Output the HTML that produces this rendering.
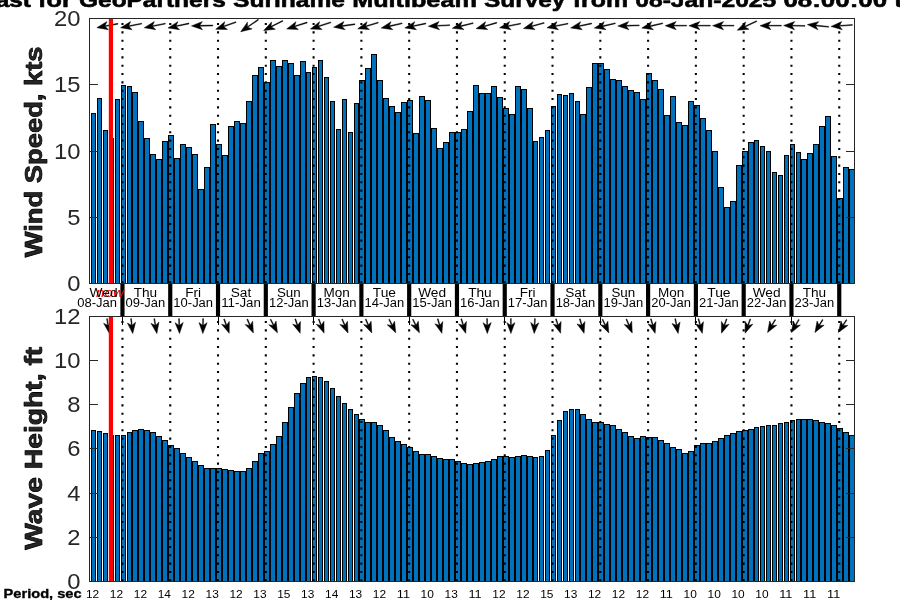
<!DOCTYPE html>
<html><head><meta charset="utf-8"><title>Forecast</title>
<style>html,body{margin:0;padding:0;background:#fff;overflow:hidden}svg{display:block}</style>
</head><body>
<svg width="900" height="600" viewBox="0 0 900 600">
<rect width="900" height="600" fill="#fff"/>
<clipPath id="ctop"><rect x="89" y="18" width="766" height="266"/></clipPath>
<g clip-path="url(#ctop)">
<g shape-rendering="crispEdges">
<path fill="#000" d="M91 113h5V284h-5zM97 98h5V284h-5zM103 130h5V284h-5zM109 138h5V284h-5zM115 99h5V284h-5zM121 85h5V284h-5zM127 86h5V284h-5zM132 92h6V284h-6zM138 121h6V284h-6zM144 138h6V284h-6zM150 154h6V284h-6zM156 159h6V284h-6zM162 141h6V284h-6zM168 135h6V284h-6zM174 158h6V284h-6zM180 144h6V284h-6zM186 147h6V284h-6zM192 154h6V284h-6zM198 189h6V284h-6zM204 167h6V284h-6zM210 124h6V284h-6zM216 144h6V284h-6zM222 155h6V284h-6zM228 126h6V284h-6zM234 121h6V284h-6zM240 123h6V284h-6zM246 101h6V284h-6zM252 75h6V284h-6zM258 67h6V284h-6zM264 82h6V284h-6zM270 60h6V284h-6zM276 66h6V284h-6zM282 60h6V284h-6zM288 63h6V284h-6zM294 75h6V284h-6zM300 61h6V284h-6zM306 72h5V284h-5zM312 67h5V284h-5zM318 60h5V284h-5zM324 77h5V284h-5zM330 101h5V284h-5zM336 129h5V284h-5zM342 99h5V284h-5zM348 132h5V284h-5zM354 103h5V284h-5zM359 80h6V284h-6zM365 68h6V284h-6zM371 54h6V284h-6zM377 80h6V284h-6zM383 98h6V284h-6zM389 106h6V284h-6zM395 112h6V284h-6zM401 102h6V284h-6zM407 100h6V284h-6zM413 133h6V284h-6zM419 96h6V284h-6zM425 100h6V284h-6zM431 128h6V284h-6zM437 148h6V284h-6zM443 142h6V284h-6zM449 132h6V284h-6zM455 132h6V284h-6zM461 129h6V284h-6zM467 111h6V284h-6zM473 85h6V284h-6zM479 93h6V284h-6zM485 93h6V284h-6zM491 86h6V284h-6zM497 97h6V284h-6zM503 108h6V284h-6zM509 114h6V284h-6zM515 86h6V284h-6zM521 89h6V284h-6zM527 108h6V284h-6zM533 141h5V284h-5zM539 137h5V284h-5zM545 130h5V284h-5zM551 106h5V284h-5zM557 94h5V284h-5zM563 95h5V284h-5zM569 93h5V284h-5zM575 101h5V284h-5zM580 114h6V284h-6zM586 87h6V284h-6zM592 63h6V284h-6zM598 63h6V284h-6zM604 69h6V284h-6zM610 79h6V284h-6zM616 80h6V284h-6zM622 86h6V284h-6zM628 90h6V284h-6zM634 92h6V284h-6zM640 99h6V284h-6zM646 73h6V284h-6zM652 80h6V284h-6zM658 89h6V284h-6zM664 115h6V284h-6zM670 96h6V284h-6zM676 122h6V284h-6zM682 125h6V284h-6zM688 101h6V284h-6zM694 105h6V284h-6zM700 118h6V284h-6zM706 130h6V284h-6zM712 151h6V284h-6zM718 187h6V284h-6zM724 207h6V284h-6zM730 201h6V284h-6zM736 165h6V284h-6zM742 151h6V284h-6zM748 142h6V284h-6zM754 140h5V284h-5zM760 146h5V284h-5zM766 151h5V284h-5zM772 172h5V284h-5zM778 175h5V284h-5zM784 155h5V284h-5zM790 144h5V284h-5zM796 152h5V284h-5zM801 159h6V284h-6zM807 153h6V284h-6zM813 144h6V284h-6zM819 126h6V284h-6zM825 116h6V284h-6zM831 156h6V284h-6zM837 198h6V284h-6zM843 167h6V284h-6zM849 169h6V284h-6z"/>
<path fill="#0072bd" d="M92 114h3V283h-3zM98 99h3V283h-3zM104 131h3V283h-3zM110 139h3V283h-3zM116 100h3V283h-3zM122 86h3V283h-3zM128 87h3V283h-3zM133 93h4V283h-4zM139 122h4V283h-4zM145 139h4V283h-4zM151 155h4V283h-4zM157 160h4V283h-4zM163 142h4V283h-4zM169 136h4V283h-4zM175 159h4V283h-4zM181 145h4V283h-4zM187 148h4V283h-4zM193 155h4V283h-4zM199 190h4V283h-4zM205 168h4V283h-4zM211 125h4V283h-4zM217 145h4V283h-4zM223 156h4V283h-4zM229 127h4V283h-4zM235 122h4V283h-4zM241 124h4V283h-4zM247 102h4V283h-4zM253 76h4V283h-4zM259 68h4V283h-4zM265 83h4V283h-4zM271 61h4V283h-4zM277 67h4V283h-4zM283 61h4V283h-4zM289 64h4V283h-4zM295 76h4V283h-4zM301 62h4V283h-4zM307 73h3V283h-3zM313 68h3V283h-3zM319 61h3V283h-3zM325 78h3V283h-3zM331 102h3V283h-3zM337 130h3V283h-3zM343 100h3V283h-3zM349 133h3V283h-3zM355 104h3V283h-3zM360 81h4V283h-4zM366 69h4V283h-4zM372 55h4V283h-4zM378 81h4V283h-4zM384 99h4V283h-4zM390 107h4V283h-4zM396 113h4V283h-4zM402 103h4V283h-4zM408 101h4V283h-4zM414 134h4V283h-4zM420 97h4V283h-4zM426 101h4V283h-4zM432 129h4V283h-4zM438 149h4V283h-4zM444 143h4V283h-4zM450 133h4V283h-4zM456 133h4V283h-4zM462 130h4V283h-4zM468 112h4V283h-4zM474 86h4V283h-4zM480 94h4V283h-4zM486 94h4V283h-4zM492 87h4V283h-4zM498 98h4V283h-4zM504 109h4V283h-4zM510 115h4V283h-4zM516 87h4V283h-4zM522 90h4V283h-4zM528 109h4V283h-4zM534 142h3V283h-3zM540 138h3V283h-3zM546 131h3V283h-3zM552 107h3V283h-3zM558 95h3V283h-3zM564 96h3V283h-3zM570 94h3V283h-3zM576 102h3V283h-3zM581 115h4V283h-4zM587 88h4V283h-4zM593 64h4V283h-4zM599 64h4V283h-4zM605 70h4V283h-4zM611 80h4V283h-4zM617 81h4V283h-4zM623 87h4V283h-4zM629 91h4V283h-4zM635 93h4V283h-4zM641 100h4V283h-4zM647 74h4V283h-4zM653 81h4V283h-4zM659 90h4V283h-4zM665 116h4V283h-4zM671 97h4V283h-4zM677 123h4V283h-4zM683 126h4V283h-4zM689 102h4V283h-4zM695 106h4V283h-4zM701 119h4V283h-4zM707 131h4V283h-4zM713 152h4V283h-4zM719 188h4V283h-4zM725 208h4V283h-4zM731 202h4V283h-4zM737 166h4V283h-4zM743 152h4V283h-4zM749 143h4V283h-4zM755 141h3V283h-3zM761 147h3V283h-3zM767 152h3V283h-3zM773 173h3V283h-3zM779 176h3V283h-3zM785 156h3V283h-3zM791 145h3V283h-3zM797 153h3V283h-3zM802 160h4V283h-4zM808 154h4V283h-4zM814 145h4V283h-4zM820 127h4V283h-4zM826 117h4V283h-4zM832 157h4V283h-4zM838 199h4V283h-4zM844 168h4V283h-4zM850 170h4V283h-4z"/>
</g>
<line x1="122.45" x2="122.45" y1="23.00" y2="283" stroke="#000" stroke-width="2.08" stroke-dasharray="2.08 6.25"/>
<line x1="170.24" x2="170.24" y1="23.00" y2="283" stroke="#000" stroke-width="2.08" stroke-dasharray="2.08 6.25"/>
<line x1="218.02" x2="218.02" y1="23.00" y2="283" stroke="#000" stroke-width="2.08" stroke-dasharray="2.08 6.25"/>
<line x1="265.81" x2="265.81" y1="23.00" y2="283" stroke="#000" stroke-width="2.08" stroke-dasharray="2.08 6.25"/>
<line x1="313.59" x2="313.59" y1="23.00" y2="283" stroke="#000" stroke-width="2.08" stroke-dasharray="2.08 6.25"/>
<line x1="361.38" x2="361.38" y1="23.00" y2="283" stroke="#000" stroke-width="2.08" stroke-dasharray="2.08 6.25"/>
<line x1="409.17" x2="409.17" y1="23.00" y2="283" stroke="#000" stroke-width="2.08" stroke-dasharray="2.08 6.25"/>
<line x1="456.95" x2="456.95" y1="23.00" y2="283" stroke="#000" stroke-width="2.08" stroke-dasharray="2.08 6.25"/>
<line x1="504.74" x2="504.74" y1="23.00" y2="283" stroke="#000" stroke-width="2.08" stroke-dasharray="2.08 6.25"/>
<line x1="552.52" x2="552.52" y1="23.00" y2="283" stroke="#000" stroke-width="2.08" stroke-dasharray="2.08 6.25"/>
<line x1="600.31" x2="600.31" y1="23.00" y2="283" stroke="#000" stroke-width="2.08" stroke-dasharray="2.08 6.25"/>
<line x1="648.10" x2="648.10" y1="23.00" y2="283" stroke="#000" stroke-width="2.08" stroke-dasharray="2.08 6.25"/>
<line x1="695.88" x2="695.88" y1="23.00" y2="283" stroke="#000" stroke-width="2.08" stroke-dasharray="2.08 6.25"/>
<line x1="743.67" x2="743.67" y1="23.00" y2="283" stroke="#000" stroke-width="2.08" stroke-dasharray="2.08 6.25"/>
<line x1="791.45" x2="791.45" y1="23.00" y2="283" stroke="#000" stroke-width="2.08" stroke-dasharray="2.08 6.25"/>
<line x1="839.24" x2="839.24" y1="23.00" y2="283" stroke="#000" stroke-width="2.08" stroke-dasharray="2.08 6.25"/>
<g fill="#000" stroke="#000" stroke-width="0.45" stroke-linejoin="miter">
<polygon points="-10.70,-0.42 2.30,-0.42 -0.30,-4.10 10.70,0.00 -0.30,4.10 2.30,0.42 -10.70,0.42" transform="translate(107.40 25.70) rotate(169.5)"/>
<polygon points="-10.70,-0.42 2.30,-0.42 -0.30,-4.10 10.70,0.00 -0.30,4.10 2.30,0.42 -10.70,0.42" transform="translate(131.09 25.70) rotate(169.0)"/>
<polygon points="-10.70,-0.42 2.30,-0.42 -0.30,-4.10 10.70,0.00 -0.30,4.10 2.30,0.42 -10.70,0.42" transform="translate(154.77 25.70) rotate(169.0)"/>
<polygon points="-10.70,-0.42 2.30,-0.42 -0.30,-4.10 10.70,0.00 -0.30,4.10 2.30,0.42 -10.70,0.42" transform="translate(178.46 25.70) rotate(168.0)"/>
<polygon points="-10.70,-0.42 2.30,-0.42 -0.30,-4.10 10.70,0.00 -0.30,4.10 2.30,0.42 -10.70,0.42" transform="translate(202.15 25.70) rotate(179.0)"/>
<polygon points="-10.70,-0.42 2.30,-0.42 -0.30,-4.10 10.70,0.00 -0.30,4.10 2.30,0.42 -10.70,0.42" transform="translate(225.84 25.70) rotate(160.6)"/>
<polygon points="-10.70,-0.42 2.30,-0.42 -0.30,-4.10 10.70,0.00 -0.30,4.10 2.30,0.42 -10.70,0.42" transform="translate(249.52 25.70) rotate(145.5)"/>
<polygon points="-10.70,-0.42 2.30,-0.42 -0.30,-4.10 10.70,0.00 -0.30,4.10 2.30,0.42 -10.70,0.42" transform="translate(273.21 25.70) rotate(153.0)"/>
<polygon points="-10.70,-0.42 2.30,-0.42 -0.30,-4.10 10.70,0.00 -0.30,4.10 2.30,0.42 -10.70,0.42" transform="translate(296.90 25.70) rotate(162.5)"/>
<polygon points="-10.70,-0.42 2.30,-0.42 -0.30,-4.10 10.70,0.00 -0.30,4.10 2.30,0.42 -10.70,0.42" transform="translate(320.58 25.70) rotate(162.0)"/>
<polygon points="-10.70,-0.42 2.30,-0.42 -0.30,-4.10 10.70,0.00 -0.30,4.10 2.30,0.42 -10.70,0.42" transform="translate(344.27 25.70) rotate(172.0)"/>
<polygon points="-10.70,-0.42 2.30,-0.42 -0.30,-4.10 10.70,0.00 -0.30,4.10 2.30,0.42 -10.70,0.42" transform="translate(367.96 25.70) rotate(163.0)"/>
<polygon points="-10.70,-0.42 2.30,-0.42 -0.30,-4.10 10.70,0.00 -0.30,4.10 2.30,0.42 -10.70,0.42" transform="translate(391.64 25.70) rotate(167.0)"/>
<polygon points="-10.70,-0.42 2.30,-0.42 -0.30,-4.10 10.70,0.00 -0.30,4.10 2.30,0.42 -10.70,0.42" transform="translate(415.33 25.70) rotate(168.0)"/>
<polygon points="-10.70,-0.42 2.30,-0.42 -0.30,-4.10 10.70,0.00 -0.30,4.10 2.30,0.42 -10.70,0.42" transform="translate(439.02 25.70) rotate(177.0)"/>
<polygon points="-10.70,-0.42 2.30,-0.42 -0.30,-4.10 10.70,0.00 -0.30,4.10 2.30,0.42 -10.70,0.42" transform="translate(462.71 25.70) rotate(166.0)"/>
<polygon points="-10.70,-0.42 2.30,-0.42 -0.30,-4.10 10.70,0.00 -0.30,4.10 2.30,0.42 -10.70,0.42" transform="translate(486.39 25.70) rotate(164.0)"/>
<polygon points="-10.70,-0.42 2.30,-0.42 -0.30,-4.10 10.70,0.00 -0.30,4.10 2.30,0.42 -10.70,0.42" transform="translate(510.08 25.70) rotate(169.0)"/>
<polygon points="-10.70,-0.42 2.30,-0.42 -0.30,-4.10 10.70,0.00 -0.30,4.10 2.30,0.42 -10.70,0.42" transform="translate(533.77 25.70) rotate(165.0)"/>
<polygon points="-10.70,-0.42 2.30,-0.42 -0.30,-4.10 10.70,0.00 -0.30,4.10 2.30,0.42 -10.70,0.42" transform="translate(557.45 25.70) rotate(169.0)"/>
<polygon points="-10.70,-0.42 2.30,-0.42 -0.30,-4.10 10.70,0.00 -0.30,4.10 2.30,0.42 -10.70,0.42" transform="translate(581.14 25.70) rotate(168.0)"/>
<polygon points="-10.70,-0.42 2.30,-0.42 -0.30,-4.10 10.70,0.00 -0.30,4.10 2.30,0.42 -10.70,0.42" transform="translate(604.83 25.70) rotate(167.0)"/>
<polygon points="-10.70,-0.42 2.30,-0.42 -0.30,-4.10 10.70,0.00 -0.30,4.10 2.30,0.42 -10.70,0.42" transform="translate(628.51 25.70) rotate(178.0)"/>
<polygon points="-10.70,-0.42 2.30,-0.42 -0.30,-4.10 10.70,0.00 -0.30,4.10 2.30,0.42 -10.70,0.42" transform="translate(652.20 25.70) rotate(167.0)"/>
<polygon points="-10.70,-0.42 2.30,-0.42 -0.30,-4.10 10.70,0.00 -0.30,4.10 2.30,0.42 -10.70,0.42" transform="translate(675.89 25.70) rotate(180.0)"/>
<polygon points="-10.70,-0.42 2.30,-0.42 -0.30,-4.10 10.70,0.00 -0.30,4.10 2.30,0.42 -10.70,0.42" transform="translate(699.58 25.70) rotate(180.0)"/>
<polygon points="-10.70,-0.42 2.30,-0.42 -0.30,-4.10 10.70,0.00 -0.30,4.10 2.30,0.42 -10.70,0.42" transform="translate(723.26 25.70) rotate(180.0)"/>
<polygon points="-10.70,-0.42 2.30,-0.42 -0.30,-4.10 10.70,0.00 -0.30,4.10 2.30,0.42 -10.70,0.42" transform="translate(746.95 25.70) rotate(155.0)"/>
<polygon points="-10.70,-0.42 2.30,-0.42 -0.30,-4.10 10.70,0.00 -0.30,4.10 2.30,0.42 -10.70,0.42" transform="translate(770.64 25.70) rotate(180.0)"/>
<polygon points="-10.70,-0.42 2.30,-0.42 -0.30,-4.10 10.70,0.00 -0.30,4.10 2.30,0.42 -10.70,0.42" transform="translate(794.32 25.70) rotate(181.0)"/>
<polygon points="-10.70,-0.42 2.30,-0.42 -0.30,-4.10 10.70,0.00 -0.30,4.10 2.30,0.42 -10.70,0.42" transform="translate(818.01 25.70) rotate(186.0)"/>
<polygon points="-10.70,-0.42 2.30,-0.42 -0.30,-4.10 10.70,0.00 -0.30,4.10 2.30,0.42 -10.70,0.42" transform="translate(841.70 25.70) rotate(176.0)"/>
</g>
<rect x="108.8" y="18" width="4.2" height="265" fill="#f00"/>
</g>
<g shape-rendering="crispEdges" fill="#262626">
<rect x="89" y="18" width="9" height="1"/>
<rect x="846" y="18" width="9" height="1"/>
<rect x="89" y="84" width="9" height="1"/>
<rect x="846" y="84" width="9" height="1"/>
<rect x="89" y="151" width="9" height="1"/>
<rect x="846" y="151" width="9" height="1"/>
<rect x="89" y="217" width="9" height="1"/>
<rect x="846" y="217" width="9" height="1"/>
<rect x="89" y="283" width="9" height="1"/>
<rect x="846" y="283" width="9" height="1"/>
<rect x="89" y="18" width="766" height="1"/>
<rect x="89" y="283" width="766" height="1"/>
<rect x="89" y="18" width="1" height="266"/>
<rect x="854" y="18" width="1" height="266"/>
</g>
<clipPath id="cbot"><rect x="89" y="316" width="766" height="266"/></clipPath>
<g clip-path="url(#cbot)">
<g shape-rendering="crispEdges">
<path fill="#000" d="M91 430h5V582h-5zM97 431h5V582h-5zM103 433h5V582h-5zM109 435h5V582h-5zM115 435h5V582h-5zM121 435h5V582h-5zM127 432h5V582h-5zM132 430h6V582h-6zM138 429h6V582h-6zM144 430h6V582h-6zM150 432h6V582h-6zM156 436h6V582h-6zM162 440h6V582h-6zM168 445h6V582h-6zM174 448h6V582h-6zM180 453h6V582h-6zM186 457h6V582h-6zM192 461h6V582h-6zM198 465h6V582h-6zM204 468h6V582h-6zM210 468h6V582h-6zM216 468h6V582h-6zM222 469h6V582h-6zM228 470h6V582h-6zM234 471h6V582h-6zM240 471h6V582h-6zM246 468h6V582h-6zM252 461h6V582h-6zM258 453h6V582h-6zM264 451h6V582h-6zM270 444h6V582h-6zM276 436h6V582h-6zM282 422h6V582h-6zM288 407h6V582h-6zM294 393h6V582h-6zM300 383h6V582h-6zM306 377h5V582h-5zM312 376h5V582h-5zM318 377h5V582h-5zM324 381h5V582h-5zM330 388h5V582h-5zM336 396h5V582h-5zM342 403h5V582h-5zM348 409h5V582h-5zM354 414h5V582h-5zM359 419h6V582h-6zM365 422h6V582h-6zM371 422h6V582h-6zM377 425h6V582h-6zM383 430h6V582h-6zM389 437h6V582h-6zM395 441h6V582h-6zM401 444h6V582h-6zM407 447h6V582h-6zM413 451h6V582h-6zM419 454h6V582h-6zM425 454h6V582h-6zM431 456h6V582h-6zM437 458h6V582h-6zM443 459h6V582h-6zM449 459h6V582h-6zM455 461h6V582h-6zM461 463h6V582h-6zM467 464h6V582h-6zM473 463h6V582h-6zM479 462h6V582h-6zM485 461h6V582h-6zM491 459h6V582h-6zM497 456h6V582h-6zM503 456h6V582h-6zM509 457h6V582h-6zM515 456h6V582h-6zM521 455h6V582h-6zM527 456h6V582h-6zM533 457h5V582h-5zM539 456h5V582h-5zM545 450h5V582h-5zM551 435h5V582h-5zM557 420h5V582h-5zM563 411h5V582h-5zM569 409h5V582h-5zM575 409h5V582h-5zM580 414h6V582h-6zM586 419h6V582h-6zM592 422h6V582h-6zM598 422h6V582h-6zM604 424h6V582h-6zM610 425h6V582h-6zM616 429h6V582h-6zM622 432h6V582h-6zM628 436h6V582h-6zM634 438h6V582h-6zM640 436h6V582h-6zM646 437h6V582h-6zM652 437h6V582h-6zM658 440h6V582h-6zM664 443h6V582h-6zM670 447h6V582h-6zM676 449h6V582h-6zM682 453h6V582h-6zM688 451h6V582h-6zM694 445h6V582h-6zM700 443h6V582h-6zM706 443h6V582h-6zM712 441h6V582h-6zM718 438h6V582h-6zM724 435h6V582h-6zM730 433h6V582h-6zM736 431h6V582h-6zM742 430h6V582h-6zM748 429h6V582h-6zM754 427h5V582h-5zM760 426h5V582h-5zM766 425h5V582h-5zM772 425h5V582h-5zM778 423h5V582h-5zM784 422h5V582h-5zM790 420h5V582h-5zM796 419h5V582h-5zM801 419h6V582h-6zM807 419h6V582h-6zM813 420h6V582h-6zM819 422h6V582h-6zM825 423h6V582h-6zM831 425h6V582h-6zM837 428h6V582h-6zM843 432h6V582h-6zM849 435h6V582h-6z"/>
<path fill="#0072bd" d="M92 431h3V581h-3zM98 432h3V581h-3zM104 434h3V581h-3zM110 436h3V581h-3zM116 436h3V581h-3zM122 436h3V581h-3zM128 433h3V581h-3zM133 431h4V581h-4zM139 430h4V581h-4zM145 431h4V581h-4zM151 433h4V581h-4zM157 437h4V581h-4zM163 441h4V581h-4zM169 446h4V581h-4zM175 449h4V581h-4zM181 454h4V581h-4zM187 458h4V581h-4zM193 462h4V581h-4zM199 466h4V581h-4zM205 469h4V581h-4zM211 469h4V581h-4zM217 469h4V581h-4zM223 470h4V581h-4zM229 471h4V581h-4zM235 472h4V581h-4zM241 472h4V581h-4zM247 469h4V581h-4zM253 462h4V581h-4zM259 454h4V581h-4zM265 452h4V581h-4zM271 445h4V581h-4zM277 437h4V581h-4zM283 423h4V581h-4zM289 408h4V581h-4zM295 394h4V581h-4zM301 384h4V581h-4zM307 378h3V581h-3zM313 377h3V581h-3zM319 378h3V581h-3zM325 382h3V581h-3zM331 389h3V581h-3zM337 397h3V581h-3zM343 404h3V581h-3zM349 410h3V581h-3zM355 415h3V581h-3zM360 420h4V581h-4zM366 423h4V581h-4zM372 423h4V581h-4zM378 426h4V581h-4zM384 431h4V581h-4zM390 438h4V581h-4zM396 442h4V581h-4zM402 445h4V581h-4zM408 448h4V581h-4zM414 452h4V581h-4zM420 455h4V581h-4zM426 455h4V581h-4zM432 457h4V581h-4zM438 459h4V581h-4zM444 460h4V581h-4zM450 460h4V581h-4zM456 462h4V581h-4zM462 464h4V581h-4zM468 465h4V581h-4zM474 464h4V581h-4zM480 463h4V581h-4zM486 462h4V581h-4zM492 460h4V581h-4zM498 457h4V581h-4zM504 457h4V581h-4zM510 458h4V581h-4zM516 457h4V581h-4zM522 456h4V581h-4zM528 457h4V581h-4zM534 458h3V581h-3zM540 457h3V581h-3zM546 451h3V581h-3zM552 436h3V581h-3zM558 421h3V581h-3zM564 412h3V581h-3zM570 410h3V581h-3zM576 410h3V581h-3zM581 415h4V581h-4zM587 420h4V581h-4zM593 423h4V581h-4zM599 423h4V581h-4zM605 425h4V581h-4zM611 426h4V581h-4zM617 430h4V581h-4zM623 433h4V581h-4zM629 437h4V581h-4zM635 439h4V581h-4zM641 437h4V581h-4zM647 438h4V581h-4zM653 438h4V581h-4zM659 441h4V581h-4zM665 444h4V581h-4zM671 448h4V581h-4zM677 450h4V581h-4zM683 454h4V581h-4zM689 452h4V581h-4zM695 446h4V581h-4zM701 444h4V581h-4zM707 444h4V581h-4zM713 442h4V581h-4zM719 439h4V581h-4zM725 436h4V581h-4zM731 434h4V581h-4zM737 432h4V581h-4zM743 431h4V581h-4zM749 430h4V581h-4zM755 428h3V581h-3zM761 427h3V581h-3zM767 426h3V581h-3zM773 426h3V581h-3zM779 424h3V581h-3zM785 423h3V581h-3zM791 421h3V581h-3zM797 420h3V581h-3zM802 420h4V581h-4zM808 420h4V581h-4zM814 421h4V581h-4zM820 423h4V581h-4zM826 424h4V581h-4zM832 426h4V581h-4zM838 429h4V581h-4zM844 433h4V581h-4zM850 436h4V581h-4z"/>
</g>
<line x1="122.45" x2="122.45" y1="321.00" y2="581" stroke="#000" stroke-width="2.08" stroke-dasharray="2.08 6.25"/>
<line x1="170.24" x2="170.24" y1="321.00" y2="581" stroke="#000" stroke-width="2.08" stroke-dasharray="2.08 6.25"/>
<line x1="218.02" x2="218.02" y1="321.00" y2="581" stroke="#000" stroke-width="2.08" stroke-dasharray="2.08 6.25"/>
<line x1="265.81" x2="265.81" y1="321.00" y2="581" stroke="#000" stroke-width="2.08" stroke-dasharray="2.08 6.25"/>
<line x1="313.59" x2="313.59" y1="321.00" y2="581" stroke="#000" stroke-width="2.08" stroke-dasharray="2.08 6.25"/>
<line x1="361.38" x2="361.38" y1="321.00" y2="581" stroke="#000" stroke-width="2.08" stroke-dasharray="2.08 6.25"/>
<line x1="409.17" x2="409.17" y1="321.00" y2="581" stroke="#000" stroke-width="2.08" stroke-dasharray="2.08 6.25"/>
<line x1="456.95" x2="456.95" y1="321.00" y2="581" stroke="#000" stroke-width="2.08" stroke-dasharray="2.08 6.25"/>
<line x1="504.74" x2="504.74" y1="321.00" y2="581" stroke="#000" stroke-width="2.08" stroke-dasharray="2.08 6.25"/>
<line x1="552.52" x2="552.52" y1="321.00" y2="581" stroke="#000" stroke-width="2.08" stroke-dasharray="2.08 6.25"/>
<line x1="600.31" x2="600.31" y1="321.00" y2="581" stroke="#000" stroke-width="2.08" stroke-dasharray="2.08 6.25"/>
<line x1="648.10" x2="648.10" y1="321.00" y2="581" stroke="#000" stroke-width="2.08" stroke-dasharray="2.08 6.25"/>
<line x1="695.88" x2="695.88" y1="321.00" y2="581" stroke="#000" stroke-width="2.08" stroke-dasharray="2.08 6.25"/>
<line x1="743.67" x2="743.67" y1="321.00" y2="581" stroke="#000" stroke-width="2.08" stroke-dasharray="2.08 6.25"/>
<line x1="791.45" x2="791.45" y1="321.00" y2="581" stroke="#000" stroke-width="2.08" stroke-dasharray="2.08 6.25"/>
<line x1="839.24" x2="839.24" y1="321.00" y2="581" stroke="#000" stroke-width="2.08" stroke-dasharray="2.08 6.25"/>
<rect x="122" y="316" width="1" height="9" fill="#000" shape-rendering="crispEdges"/>
<rect x="218" y="316" width="1" height="9" fill="#000" shape-rendering="crispEdges"/>
<rect x="313" y="316" width="1" height="9" fill="#000" shape-rendering="crispEdges"/>
<rect x="409" y="316" width="1" height="9" fill="#000" shape-rendering="crispEdges"/>
<rect x="504" y="316" width="1" height="9" fill="#000" shape-rendering="crispEdges"/>
<rect x="600" y="316" width="1" height="9" fill="#000" shape-rendering="crispEdges"/>
<rect x="695" y="316" width="1" height="9" fill="#000" shape-rendering="crispEdges"/>
<rect x="791" y="316" width="1" height="9" fill="#000" shape-rendering="crispEdges"/>
<g fill="#000" stroke="#000" stroke-width="0.45" stroke-linejoin="miter">
<polygon points="-7.50,-0.42 -0.90,-0.42 -3.50,-4.10 7.50,0.00 -3.50,4.10 -0.90,0.42 -7.50,0.42" transform="translate(108.20 326.10) rotate(81.0)"/>
<polygon points="-7.50,-0.42 -0.90,-0.42 -3.50,-4.10 7.50,0.00 -3.50,4.10 -0.90,0.42 -7.50,0.42" transform="translate(131.89 326.10) rotate(83.5)"/>
<polygon points="-7.50,-0.42 -0.90,-0.42 -3.50,-4.10 7.50,0.00 -3.50,4.10 -0.90,0.42 -7.50,0.42" transform="translate(155.57 326.10) rotate(80.0)"/>
<polygon points="-7.50,-0.42 -0.90,-0.42 -3.50,-4.10 7.50,0.00 -3.50,4.10 -0.90,0.42 -7.50,0.42" transform="translate(179.26 326.10) rotate(88.0)"/>
<polygon points="-7.50,-0.42 -0.90,-0.42 -3.50,-4.10 7.50,0.00 -3.50,4.10 -0.90,0.42 -7.50,0.42" transform="translate(202.95 326.10) rotate(91.0)"/>
<polygon points="-7.50,-0.42 -0.90,-0.42 -3.50,-4.10 7.50,0.00 -3.50,4.10 -0.90,0.42 -7.50,0.42" transform="translate(226.63 326.10) rotate(70.0)"/>
<polygon points="-7.50,-0.42 -0.90,-0.42 -3.50,-4.10 7.50,0.00 -3.50,4.10 -0.90,0.42 -7.50,0.42" transform="translate(250.32 326.10) rotate(66.0)"/>
<polygon points="-7.50,-0.42 -0.90,-0.42 -3.50,-4.10 7.50,0.00 -3.50,4.10 -0.90,0.42 -7.50,0.42" transform="translate(274.01 326.10) rotate(63.0)"/>
<polygon points="-7.50,-0.42 -0.90,-0.42 -3.50,-4.10 7.50,0.00 -3.50,4.10 -0.90,0.42 -7.50,0.42" transform="translate(297.70 326.10) rotate(71.0)"/>
<polygon points="-7.50,-0.42 -0.90,-0.42 -3.50,-4.10 7.50,0.00 -3.50,4.10 -0.90,0.42 -7.50,0.42" transform="translate(321.38 326.10) rotate(69.0)"/>
<polygon points="-7.50,-0.42 -0.90,-0.42 -3.50,-4.10 7.50,0.00 -3.50,4.10 -0.90,0.42 -7.50,0.42" transform="translate(345.07 326.10) rotate(67.0)"/>
<polygon points="-7.50,-0.42 -0.90,-0.42 -3.50,-4.10 7.50,0.00 -3.50,4.10 -0.90,0.42 -7.50,0.42" transform="translate(368.76 326.10) rotate(66.0)"/>
<polygon points="-7.50,-0.42 -0.90,-0.42 -3.50,-4.10 7.50,0.00 -3.50,4.10 -0.90,0.42 -7.50,0.42" transform="translate(392.44 326.10) rotate(64.0)"/>
<polygon points="-7.50,-0.42 -0.90,-0.42 -3.50,-4.10 7.50,0.00 -3.50,4.10 -0.90,0.42 -7.50,0.42" transform="translate(416.13 326.10) rotate(64.0)"/>
<polygon points="-7.50,-0.42 -0.90,-0.42 -3.50,-4.10 7.50,0.00 -3.50,4.10 -0.90,0.42 -7.50,0.42" transform="translate(439.82 326.10) rotate(74.0)"/>
<polygon points="-7.50,-0.42 -0.90,-0.42 -3.50,-4.10 7.50,0.00 -3.50,4.10 -0.90,0.42 -7.50,0.42" transform="translate(463.50 326.10) rotate(73.0)"/>
<polygon points="-7.50,-0.42 -0.90,-0.42 -3.50,-4.10 7.50,0.00 -3.50,4.10 -0.90,0.42 -7.50,0.42" transform="translate(487.19 326.10) rotate(89.0)"/>
<polygon points="-7.50,-0.42 -0.90,-0.42 -3.50,-4.10 7.50,0.00 -3.50,4.10 -0.90,0.42 -7.50,0.42" transform="translate(510.88 326.10) rotate(90.0)"/>
<polygon points="-7.50,-0.42 -0.90,-0.42 -3.50,-4.10 7.50,0.00 -3.50,4.10 -0.90,0.42 -7.50,0.42" transform="translate(534.57 326.10) rotate(93.0)"/>
<polygon points="-7.50,-0.42 -0.90,-0.42 -3.50,-4.10 7.50,0.00 -3.50,4.10 -0.90,0.42 -7.50,0.42" transform="translate(558.25 326.10) rotate(72.0)"/>
<polygon points="-7.50,-0.42 -0.90,-0.42 -3.50,-4.10 7.50,0.00 -3.50,4.10 -0.90,0.42 -7.50,0.42" transform="translate(581.94 326.10) rotate(73.5)"/>
<polygon points="-7.50,-0.42 -0.90,-0.42 -3.50,-4.10 7.50,0.00 -3.50,4.10 -0.90,0.42 -7.50,0.42" transform="translate(605.63 326.10) rotate(65.0)"/>
<polygon points="-7.50,-0.42 -0.90,-0.42 -3.50,-4.10 7.50,0.00 -3.50,4.10 -0.90,0.42 -7.50,0.42" transform="translate(629.31 326.10) rotate(67.0)"/>
<polygon points="-7.50,-0.42 -0.90,-0.42 -3.50,-4.10 7.50,0.00 -3.50,4.10 -0.90,0.42 -7.50,0.42" transform="translate(653.00 326.10) rotate(73.5)"/>
<polygon points="-7.50,-0.42 -0.90,-0.42 -3.50,-4.10 7.50,0.00 -3.50,4.10 -0.90,0.42 -7.50,0.42" transform="translate(676.69 326.10) rotate(79.0)"/>
<polygon points="-7.50,-0.42 -0.90,-0.42 -3.50,-4.10 7.50,0.00 -3.50,4.10 -0.90,0.42 -7.50,0.42" transform="translate(700.38 326.10) rotate(75.0)"/>
<polygon points="-7.50,-0.42 -0.90,-0.42 -3.50,-4.10 7.50,0.00 -3.50,4.10 -0.90,0.42 -7.50,0.42" transform="translate(724.06 326.10) rotate(110.0)"/>
<polygon points="-7.50,-0.42 -0.90,-0.42 -3.50,-4.10 7.50,0.00 -3.50,4.10 -0.90,0.42 -7.50,0.42" transform="translate(747.75 326.10) rotate(110.0)"/>
<polygon points="-7.50,-0.42 -0.90,-0.42 -3.50,-4.10 7.50,0.00 -3.50,4.10 -0.90,0.42 -7.50,0.42" transform="translate(771.44 326.10) rotate(121.0)"/>
<polygon points="-7.50,-0.42 -0.90,-0.42 -3.50,-4.10 7.50,0.00 -3.50,4.10 -0.90,0.42 -7.50,0.42" transform="translate(795.12 326.10) rotate(120.0)"/>
<polygon points="-7.50,-0.42 -0.90,-0.42 -3.50,-4.10 7.50,0.00 -3.50,4.10 -0.90,0.42 -7.50,0.42" transform="translate(818.81 326.10) rotate(121.0)"/>
<polygon points="-7.50,-0.42 -0.90,-0.42 -3.50,-4.10 7.50,0.00 -3.50,4.10 -0.90,0.42 -7.50,0.42" transform="translate(842.50 326.10) rotate(123.0)"/>
</g>
<rect x="108.8" y="316" width="4.2" height="265" fill="#f00"/>
</g>
<g shape-rendering="crispEdges" fill="#262626">
<rect x="89" y="316" width="9" height="1"/>
<rect x="846" y="316" width="9" height="1"/>
<rect x="89" y="360" width="9" height="1"/>
<rect x="846" y="360" width="9" height="1"/>
<rect x="89" y="404" width="9" height="1"/>
<rect x="846" y="404" width="9" height="1"/>
<rect x="89" y="448" width="9" height="1"/>
<rect x="846" y="448" width="9" height="1"/>
<rect x="89" y="493" width="9" height="1"/>
<rect x="846" y="493" width="9" height="1"/>
<rect x="89" y="537" width="9" height="1"/>
<rect x="846" y="537" width="9" height="1"/>
<rect x="89" y="581" width="9" height="1"/>
<rect x="846" y="581" width="9" height="1"/>
<rect x="89" y="316" width="766" height="1"/>
<rect x="89" y="581" width="766" height="1"/>
<rect x="89" y="316" width="1" height="266"/>
<rect x="854" y="316" width="1" height="266"/>
</g>
<g shape-rendering="crispEdges" fill="#000">
<rect x="120.37" y="284" width="4.17" height="32" shape-rendering="auto"/>
<rect x="168.16" y="284" width="4.17" height="32" shape-rendering="auto"/>
<rect x="215.94" y="284" width="4.17" height="32" shape-rendering="auto"/>
<rect x="263.73" y="284" width="4.17" height="32" shape-rendering="auto"/>
<rect x="311.51" y="284" width="4.17" height="32" shape-rendering="auto"/>
<rect x="359.30" y="284" width="4.17" height="32" shape-rendering="auto"/>
<rect x="407.09" y="284" width="4.17" height="32" shape-rendering="auto"/>
<rect x="454.87" y="284" width="4.17" height="32" shape-rendering="auto"/>
<rect x="502.66" y="284" width="4.17" height="32" shape-rendering="auto"/>
<rect x="550.44" y="284" width="4.17" height="32" shape-rendering="auto"/>
<rect x="598.23" y="284" width="4.17" height="32" shape-rendering="auto"/>
<rect x="646.02" y="284" width="4.17" height="32" shape-rendering="auto"/>
<rect x="693.80" y="284" width="4.17" height="32" shape-rendering="auto"/>
<rect x="741.59" y="284" width="4.17" height="32" shape-rendering="auto"/>
<rect x="789.37" y="284" width="4.17" height="32" shape-rendering="auto"/>
<rect x="837.16" y="284" width="4.17" height="32" shape-rendering="auto"/>
</g>
<g font-family="Liberation Sans, sans-serif" style="will-change:opacity;opacity:0.999">
<text x="96.00" y="296.50" font-size="13.2" text-anchor="start" font-weight="normal" fill="#f00" textLength="28.00" lengthAdjust="spacingAndGlyphs" font-style="italic">now</text>
<g stroke="#000" stroke-width="0.60" stroke-linejoin="round">
<text x="79.04" y="6.70" font-size="20.83" text-anchor="start" font-weight="bold" fill="#000" textLength="146.72" lengthAdjust="spacingAndGlyphs" >GeoPartners</text>
<text x="233.01" y="6.70" font-size="20.83" text-anchor="start" font-weight="bold" fill="#000" textLength="111.96" lengthAdjust="spacingAndGlyphs" >Suriname</text>
<text x="352.22" y="6.70" font-size="20.83" text-anchor="start" font-weight="bold" fill="#000" textLength="124.59" lengthAdjust="spacingAndGlyphs" >Multibeam</text>
<text x="484.07" y="6.70" font-size="20.83" text-anchor="start" font-weight="bold" fill="#000" textLength="81.39" lengthAdjust="spacingAndGlyphs" >Survey</text>
<text x="572.70" y="6.70" font-size="20.83" text-anchor="start" font-weight="bold" fill="#000" textLength="55.35" lengthAdjust="spacingAndGlyphs" >from</text>
<text x="635.31" y="6.70" font-size="20.83" text-anchor="start" font-weight="bold" fill="#000" textLength="140.89" lengthAdjust="spacingAndGlyphs" >08-Jan-2025</text>
<text x="783.45" y="6.70" font-size="20.83" text-anchor="start" font-weight="bold" fill="#000" textLength="103.62" lengthAdjust="spacingAndGlyphs" >08:00:00</text>
<text x="894.32" y="6.70" font-size="20.83" text-anchor="start" font-weight="bold" fill="#000" textLength="24.27" lengthAdjust="spacingAndGlyphs" >to</text>
<text x="38.14" y="6.70" font-size="20.83" text-anchor="start" font-weight="bold" fill="#000" textLength="33.65" lengthAdjust="spacingAndGlyphs" >for</text>
<text x="-70.81" y="6.70" font-size="20.83" text-anchor="start" font-weight="bold" fill="#000" textLength="101.70" lengthAdjust="spacingAndGlyphs" >Forecast</text>
</g>
<text x="53.99" y="26.10" font-size="21.3" text-anchor="start" font-weight="normal" fill="#262626" textLength="26.51" lengthAdjust="spacingAndGlyphs" >20</text>
<text x="53.99" y="92.10" font-size="21.3" text-anchor="start" font-weight="normal" fill="#262626" textLength="26.51" lengthAdjust="spacingAndGlyphs" >15</text>
<text x="53.99" y="159.10" font-size="21.3" text-anchor="start" font-weight="normal" fill="#262626" textLength="26.51" lengthAdjust="spacingAndGlyphs" >10</text>
<text x="67.25" y="225.10" font-size="21.3" text-anchor="start" font-weight="normal" fill="#262626" textLength="13.25" lengthAdjust="spacingAndGlyphs" >5</text>
<text x="67.25" y="291.10" font-size="21.3" text-anchor="start" font-weight="normal" fill="#262626" textLength="13.25" lengthAdjust="spacingAndGlyphs" >0</text>
<text x="53.99" y="324.10" font-size="21.3" text-anchor="start" font-weight="normal" fill="#262626" textLength="26.51" lengthAdjust="spacingAndGlyphs" >12</text>
<text x="53.99" y="368.10" font-size="21.3" text-anchor="start" font-weight="normal" fill="#262626" textLength="26.51" lengthAdjust="spacingAndGlyphs" >10</text>
<text x="67.25" y="412.10" font-size="21.3" text-anchor="start" font-weight="normal" fill="#262626" textLength="13.25" lengthAdjust="spacingAndGlyphs" >8</text>
<text x="67.25" y="456.10" font-size="21.3" text-anchor="start" font-weight="normal" fill="#262626" textLength="13.25" lengthAdjust="spacingAndGlyphs" >6</text>
<text x="67.25" y="501.10" font-size="21.3" text-anchor="start" font-weight="normal" fill="#262626" textLength="13.25" lengthAdjust="spacingAndGlyphs" >4</text>
<text x="67.25" y="545.10" font-size="21.3" text-anchor="start" font-weight="normal" fill="#262626" textLength="13.25" lengthAdjust="spacingAndGlyphs" >2</text>
<text x="67.25" y="589.10" font-size="21.3" text-anchor="start" font-weight="normal" fill="#262626" textLength="13.25" lengthAdjust="spacingAndGlyphs" >0</text>
<g stroke="#000" stroke-width="0.70" stroke-linejoin="round" fill="#262626">
<text transform="translate(42.0 151.9) rotate(-90)" x="-105.39" y="0" font-size="23.3" font-weight="bold" textLength="210.78" lengthAdjust="spacingAndGlyphs">Wind Speed, kts</text>
<text transform="translate(42.0 448.3) rotate(-90)" x="-101.55" y="0" font-size="23.3" font-weight="bold" textLength="203.09" lengthAdjust="spacingAndGlyphs">Wave Height, ft</text>
</g>
<text x="89.60" y="296.50" font-size="12.5" text-anchor="start" font-weight="normal" fill="#000" textLength="27.98" lengthAdjust="spacingAndGlyphs" >Wed</text>
<text x="77.21" y="306.80" font-size="12.5" text-anchor="start" font-weight="normal" fill="#000" textLength="39.69" lengthAdjust="spacingAndGlyphs" >08-Jan</text>
<text x="133.70" y="296.50" font-size="12.5" text-anchor="start" font-weight="normal" fill="#000" textLength="23.48" lengthAdjust="spacingAndGlyphs" >Thu</text>
<text x="125.60" y="306.80" font-size="12.5" text-anchor="start" font-weight="normal" fill="#000" textLength="39.69" lengthAdjust="spacingAndGlyphs" >09-Jan</text>
<text x="185.33" y="296.50" font-size="12.5" text-anchor="start" font-weight="normal" fill="#000" textLength="15.80" lengthAdjust="spacingAndGlyphs" >Fri</text>
<text x="173.39" y="306.80" font-size="12.5" text-anchor="start" font-weight="normal" fill="#000" textLength="39.69" lengthAdjust="spacingAndGlyphs" >10-Jan</text>
<text x="230.77" y="296.50" font-size="12.5" text-anchor="start" font-weight="normal" fill="#000" textLength="20.50" lengthAdjust="spacingAndGlyphs" >Sat</text>
<text x="221.17" y="306.80" font-size="12.5" text-anchor="start" font-weight="normal" fill="#000" textLength="39.69" lengthAdjust="spacingAndGlyphs" >11-Jan</text>
<text x="276.91" y="296.50" font-size="12.5" text-anchor="start" font-weight="normal" fill="#000" textLength="23.78" lengthAdjust="spacingAndGlyphs" >Sun</text>
<text x="268.96" y="306.80" font-size="12.5" text-anchor="start" font-weight="normal" fill="#000" textLength="39.69" lengthAdjust="spacingAndGlyphs" >12-Jan</text>
<text x="323.41" y="296.50" font-size="12.5" text-anchor="start" font-weight="normal" fill="#000" textLength="26.35" lengthAdjust="spacingAndGlyphs" >Mon</text>
<text x="316.74" y="306.80" font-size="12.5" text-anchor="start" font-weight="normal" fill="#000" textLength="39.69" lengthAdjust="spacingAndGlyphs" >13-Jan</text>
<text x="372.75" y="296.50" font-size="12.5" text-anchor="start" font-weight="normal" fill="#000" textLength="23.25" lengthAdjust="spacingAndGlyphs" >Tue</text>
<text x="364.53" y="306.80" font-size="12.5" text-anchor="start" font-weight="normal" fill="#000" textLength="39.69" lengthAdjust="spacingAndGlyphs" >14-Jan</text>
<text x="418.17" y="296.50" font-size="12.5" text-anchor="start" font-weight="normal" fill="#000" textLength="27.98" lengthAdjust="spacingAndGlyphs" >Wed</text>
<text x="412.32" y="306.80" font-size="12.5" text-anchor="start" font-weight="normal" fill="#000" textLength="39.69" lengthAdjust="spacingAndGlyphs" >15-Jan</text>
<text x="468.20" y="296.50" font-size="12.5" text-anchor="start" font-weight="normal" fill="#000" textLength="23.48" lengthAdjust="spacingAndGlyphs" >Thu</text>
<text x="460.10" y="306.80" font-size="12.5" text-anchor="start" font-weight="normal" fill="#000" textLength="39.69" lengthAdjust="spacingAndGlyphs" >16-Jan</text>
<text x="519.83" y="296.50" font-size="12.5" text-anchor="start" font-weight="normal" fill="#000" textLength="15.80" lengthAdjust="spacingAndGlyphs" >Fri</text>
<text x="507.89" y="306.80" font-size="12.5" text-anchor="start" font-weight="normal" fill="#000" textLength="39.69" lengthAdjust="spacingAndGlyphs" >17-Jan</text>
<text x="565.27" y="296.50" font-size="12.5" text-anchor="start" font-weight="normal" fill="#000" textLength="20.50" lengthAdjust="spacingAndGlyphs" >Sat</text>
<text x="555.67" y="306.80" font-size="12.5" text-anchor="start" font-weight="normal" fill="#000" textLength="39.69" lengthAdjust="spacingAndGlyphs" >18-Jan</text>
<text x="611.41" y="296.50" font-size="12.5" text-anchor="start" font-weight="normal" fill="#000" textLength="23.78" lengthAdjust="spacingAndGlyphs" >Sun</text>
<text x="603.46" y="306.80" font-size="12.5" text-anchor="start" font-weight="normal" fill="#000" textLength="39.69" lengthAdjust="spacingAndGlyphs" >19-Jan</text>
<text x="657.91" y="296.50" font-size="12.5" text-anchor="start" font-weight="normal" fill="#000" textLength="26.35" lengthAdjust="spacingAndGlyphs" >Mon</text>
<text x="651.25" y="306.80" font-size="12.5" text-anchor="start" font-weight="normal" fill="#000" textLength="39.69" lengthAdjust="spacingAndGlyphs" >20-Jan</text>
<text x="707.25" y="296.50" font-size="12.5" text-anchor="start" font-weight="normal" fill="#000" textLength="23.25" lengthAdjust="spacingAndGlyphs" >Tue</text>
<text x="699.03" y="306.80" font-size="12.5" text-anchor="start" font-weight="normal" fill="#000" textLength="39.69" lengthAdjust="spacingAndGlyphs" >21-Jan</text>
<text x="752.67" y="296.50" font-size="12.5" text-anchor="start" font-weight="normal" fill="#000" textLength="27.98" lengthAdjust="spacingAndGlyphs" >Wed</text>
<text x="746.82" y="306.80" font-size="12.5" text-anchor="start" font-weight="normal" fill="#000" textLength="39.69" lengthAdjust="spacingAndGlyphs" >22-Jan</text>
<text x="802.71" y="296.50" font-size="12.5" text-anchor="start" font-weight="normal" fill="#000" textLength="23.48" lengthAdjust="spacingAndGlyphs" >Thu</text>
<text x="794.60" y="306.80" font-size="12.5" text-anchor="start" font-weight="normal" fill="#000" textLength="39.69" lengthAdjust="spacingAndGlyphs" >23-Jan</text>
<g stroke="#000" stroke-width="0.35" stroke-linejoin="round">
<text x="3.60" y="598.00" font-size="12.5" text-anchor="start" font-weight="bold" fill="#000" textLength="78.05" lengthAdjust="spacingAndGlyphs" >Period, sec</text>
</g>
<text x="85.97" y="597.90" font-size="10.7" text-anchor="start" font-weight="normal" fill="#000" textLength="13.26" lengthAdjust="spacingAndGlyphs" >12</text>
<text x="109.88" y="597.90" font-size="10.7" text-anchor="start" font-weight="normal" fill="#000" textLength="13.26" lengthAdjust="spacingAndGlyphs" >12</text>
<text x="133.78" y="597.90" font-size="10.7" text-anchor="start" font-weight="normal" fill="#000" textLength="13.26" lengthAdjust="spacingAndGlyphs" >12</text>
<text x="157.69" y="597.90" font-size="10.7" text-anchor="start" font-weight="normal" fill="#000" textLength="13.26" lengthAdjust="spacingAndGlyphs" >14</text>
<text x="181.59" y="597.90" font-size="10.7" text-anchor="start" font-weight="normal" fill="#000" textLength="13.26" lengthAdjust="spacingAndGlyphs" >12</text>
<text x="205.50" y="597.90" font-size="10.7" text-anchor="start" font-weight="normal" fill="#000" textLength="13.26" lengthAdjust="spacingAndGlyphs" >13</text>
<text x="229.40" y="597.90" font-size="10.7" text-anchor="start" font-weight="normal" fill="#000" textLength="13.26" lengthAdjust="spacingAndGlyphs" >12</text>
<text x="253.31" y="597.90" font-size="10.7" text-anchor="start" font-weight="normal" fill="#000" textLength="13.26" lengthAdjust="spacingAndGlyphs" >13</text>
<text x="277.21" y="597.90" font-size="10.7" text-anchor="start" font-weight="normal" fill="#000" textLength="13.26" lengthAdjust="spacingAndGlyphs" >15</text>
<text x="301.12" y="597.90" font-size="10.7" text-anchor="start" font-weight="normal" fill="#000" textLength="13.26" lengthAdjust="spacingAndGlyphs" >13</text>
<text x="325.02" y="597.90" font-size="10.7" text-anchor="start" font-weight="normal" fill="#000" textLength="13.26" lengthAdjust="spacingAndGlyphs" >14</text>
<text x="348.93" y="597.90" font-size="10.7" text-anchor="start" font-weight="normal" fill="#000" textLength="13.26" lengthAdjust="spacingAndGlyphs" >13</text>
<text x="372.83" y="597.90" font-size="10.7" text-anchor="start" font-weight="normal" fill="#000" textLength="13.26" lengthAdjust="spacingAndGlyphs" >12</text>
<text x="396.74" y="597.90" font-size="10.7" text-anchor="start" font-weight="normal" fill="#000" textLength="13.26" lengthAdjust="spacingAndGlyphs" >11</text>
<text x="420.64" y="597.90" font-size="10.7" text-anchor="start" font-weight="normal" fill="#000" textLength="13.26" lengthAdjust="spacingAndGlyphs" >10</text>
<text x="444.55" y="597.90" font-size="10.7" text-anchor="start" font-weight="normal" fill="#000" textLength="13.26" lengthAdjust="spacingAndGlyphs" >13</text>
<text x="468.45" y="597.90" font-size="10.7" text-anchor="start" font-weight="normal" fill="#000" textLength="13.26" lengthAdjust="spacingAndGlyphs" >11</text>
<text x="492.36" y="597.90" font-size="10.7" text-anchor="start" font-weight="normal" fill="#000" textLength="13.26" lengthAdjust="spacingAndGlyphs" >12</text>
<text x="516.26" y="597.90" font-size="10.7" text-anchor="start" font-weight="normal" fill="#000" textLength="13.26" lengthAdjust="spacingAndGlyphs" >12</text>
<text x="540.17" y="597.90" font-size="10.7" text-anchor="start" font-weight="normal" fill="#000" textLength="13.26" lengthAdjust="spacingAndGlyphs" >15</text>
<text x="564.07" y="597.90" font-size="10.7" text-anchor="start" font-weight="normal" fill="#000" textLength="13.26" lengthAdjust="spacingAndGlyphs" >13</text>
<text x="587.98" y="597.90" font-size="10.7" text-anchor="start" font-weight="normal" fill="#000" textLength="13.26" lengthAdjust="spacingAndGlyphs" >12</text>
<text x="611.88" y="597.90" font-size="10.7" text-anchor="start" font-weight="normal" fill="#000" textLength="13.26" lengthAdjust="spacingAndGlyphs" >12</text>
<text x="635.79" y="597.90" font-size="10.7" text-anchor="start" font-weight="normal" fill="#000" textLength="13.26" lengthAdjust="spacingAndGlyphs" >12</text>
<text x="659.69" y="597.90" font-size="10.7" text-anchor="start" font-weight="normal" fill="#000" textLength="13.26" lengthAdjust="spacingAndGlyphs" >11</text>
<text x="683.60" y="597.90" font-size="10.7" text-anchor="start" font-weight="normal" fill="#000" textLength="13.26" lengthAdjust="spacingAndGlyphs" >10</text>
<text x="707.50" y="597.90" font-size="10.7" text-anchor="start" font-weight="normal" fill="#000" textLength="13.26" lengthAdjust="spacingAndGlyphs" >10</text>
<text x="731.41" y="597.90" font-size="10.7" text-anchor="start" font-weight="normal" fill="#000" textLength="13.26" lengthAdjust="spacingAndGlyphs" >10</text>
<text x="755.31" y="597.90" font-size="10.7" text-anchor="start" font-weight="normal" fill="#000" textLength="13.26" lengthAdjust="spacingAndGlyphs" >10</text>
<text x="779.22" y="597.90" font-size="10.7" text-anchor="start" font-weight="normal" fill="#000" textLength="13.26" lengthAdjust="spacingAndGlyphs" >11</text>
<text x="803.12" y="597.90" font-size="10.7" text-anchor="start" font-weight="normal" fill="#000" textLength="13.26" lengthAdjust="spacingAndGlyphs" >11</text>
<text x="827.03" y="597.90" font-size="10.7" text-anchor="start" font-weight="normal" fill="#000" textLength="13.26" lengthAdjust="spacingAndGlyphs" >11</text>
</g>
</svg>
</body></html>
